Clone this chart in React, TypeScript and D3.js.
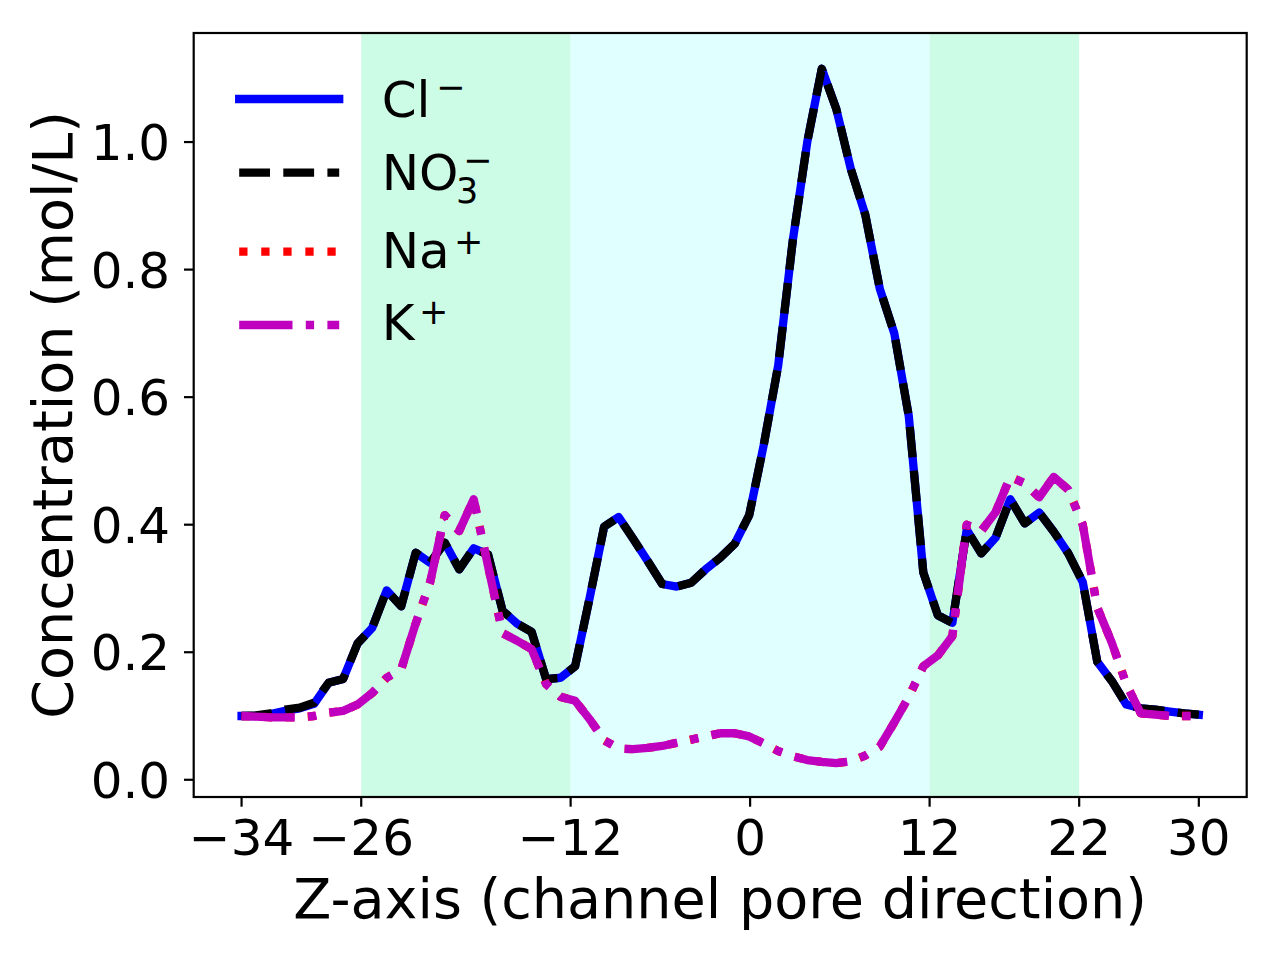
import * as d3 from "d3";

// z positions of the profile samples (channel pore axis)
const zPos = [
  -34, -33.03, -32.06, -31.09, -30.12, -29.15, -28.18, -27.21, -26.24, -25.27,
  -24.3, -23.33, -22.36, -21.39, -20.42, -19.45, -18.48, -17.52, -16.55, -15.58,
  -14.61, -13.64, -12.67, -11.7, -10.73, -9.76, -8.79, -7.82, -6.85, -5.88,
  -4.91, -3.94, -2.97, -2.0, -1.03, -0.06, 0.91, 1.88, 2.85, 3.82,
  4.79, 5.76, 6.73, 7.7, 8.67, 9.64, 10.61, 11.58, 12.55, 13.52,
  14.48, 15.45, 16.42, 17.39, 18.36, 19.33, 20.3, 21.27, 22.24, 23.21,
  24.18, 25.15, 26.12, 27.09, 28.06, 29.03, 30,
];

const clValues = [
  0.1, 0.1, 0.103, 0.108, 0.112, 0.119, 0.152, 0.158, 0.214, 0.238,
  0.297, 0.272, 0.356, 0.34, 0.372, 0.33, 0.363, 0.353, 0.265, 0.245,
  0.232, 0.158, 0.16, 0.178, 0.285, 0.397, 0.412, 0.378, 0.343, 0.307,
  0.303, 0.309, 0.33, 0.348, 0.37, 0.415, 0.525, 0.65, 0.845, 1.0,
  1.115, 1.052, 0.958, 0.886, 0.77, 0.7, 0.57, 0.325, 0.258, 0.246,
  0.392, 0.355, 0.38, 0.44, 0.402, 0.419, 0.389, 0.355, 0.31, 0.185,
  0.155, 0.118, 0.112, 0.11, 0.107, 0.104, 0.102,
];

const no3Values = [
  0.1, 0.101, 0.104, 0.11, 0.113, 0.121, 0.152, 0.158, 0.214, 0.238,
  0.297, 0.272, 0.356, 0.34, 0.372, 0.33, 0.363, 0.353, 0.265, 0.245,
  0.232, 0.158, 0.16, 0.178, 0.285, 0.397, 0.412, 0.378, 0.343, 0.307,
  0.303, 0.309, 0.33, 0.348, 0.37, 0.415, 0.525, 0.65, 0.845, 1.0,
  1.115, 1.052, 0.958, 0.886, 0.77, 0.7, 0.57, 0.325, 0.258, 0.246,
  0.392, 0.355, 0.38, 0.44, 0.402, 0.419, 0.389, 0.355, 0.31, 0.185,
  0.155, 0.118, 0.112, 0.11, 0.107, 0.104, 0.102,
];

const naValues = [
  0.1, 0.099, 0.098, 0.098, 0.098, 0.1, 0.105, 0.108, 0.118, 0.136,
  0.16, 0.173, 0.245, 0.31, 0.415, 0.39, 0.44, 0.335, 0.23, 0.218,
  0.205, 0.15, 0.13, 0.124, 0.095, 0.062, 0.049, 0.048, 0.05, 0.053,
  0.058, 0.063, 0.068, 0.073, 0.073, 0.068, 0.057, 0.045, 0.037, 0.031,
  0.028, 0.026, 0.029, 0.038, 0.052, 0.09, 0.13, 0.178, 0.195, 0.225,
  0.4, 0.39, 0.42, 0.475, 0.465, 0.443, 0.475, 0.455, 0.4, 0.27,
  0.215, 0.15, 0.104, 0.102, 0.1, 0.1, 0.1,
];

const kValues = [
  0.1, 0.099, 0.098, 0.098, 0.098, 0.1, 0.105, 0.108, 0.118, 0.136,
  0.16, 0.173, 0.245, 0.31, 0.415, 0.39, 0.44, 0.335, 0.23, 0.218,
  0.205, 0.15, 0.13, 0.124, 0.095, 0.062, 0.049, 0.048, 0.05, 0.053,
  0.058, 0.063, 0.068, 0.073, 0.073, 0.068, 0.057, 0.045, 0.037, 0.031,
  0.028, 0.026, 0.029, 0.038, 0.052, 0.09, 0.13, 0.178, 0.195, 0.225,
  0.4, 0.39, 0.42, 0.475, 0.465, 0.443, 0.475, 0.455, 0.4, 0.27,
  0.215, 0.15, 0.104, 0.102, 0.1, 0.1, 0.1,
];

const xTicks = [-34, -26, -12, 0, 12, 22, 30];
const yTicks = [0, 0.2, 0.4, 0.6, 0.8, 1.0];

// shaded regions along the pore
const regionStarts = [-26, -12, 12];
const regionEnds = [-12, 12, 22];
const regionColors = ["#ccfce6", "#e0ffff", "#ccfce6"];

const FONT = "DejaVu Sans";
const LW = 8.3;

const series = [
  { name: "cl", values: clValues, color: "#0000ff", dash: null, cap: "square" },
  { name: "no3", values: no3Values, color: "#000000", dash: "30.8 13.3", cap: "butt" },
  { name: "na", values: naValues, color: "#ff0000", dash: "8.3 13.75", cap: "butt" },
  { name: "k", values: kValues, color: "#bf00bf", dash: "53.3 13.3 8.3 13.3", cap: "butt" },
];

const W = 1280;
const H = 960;
const plot = { left: 193.7, right: 1246.7, top: 33, bottom: 797 };

export default function App() {
  const x = d3.scaleLinear().domain([-37.2, 33.2]).range([plot.left, plot.right]);
  const y = d3.scaleLinear().domain([-0.027, 1.171]).range([plot.bottom, plot.top]);

  const line = d3
    .line<number>()
    .x((_, i) => x(zPos[i]))
    .y((d) => y(d));

  const fmtX = (v: number) => (v < 0 ? `\u2212${Math.abs(v)}` : `${v}`);

  // legend rows: handle center y
  const legendRows = [
    { s: series[0], cy: 99 },
    { s: series[1], cy: 172.7 },
    { s: series[2], cy: 251.7 },
    { s: series[3], cy: 325 },
  ];

  return (
    <svg
      width={W}
      height={H}
      style={{ position: "absolute", left: 0, top: 0, background: "#fff" }}
      fontFamily={FONT}
    >
      <defs>
        <clipPath id="plot-clip">
          <rect x={plot.left} y={plot.top} width={plot.right - plot.left} height={plot.bottom - plot.top} />
        </clipPath>
      </defs>

      {/* shaded regions */}
      {regionStarts.map((s, i) => (
        <rect
          key={i}
          x={x(s)}
          y={plot.top}
          width={x(regionEnds[i]) - x(s)}
          height={plot.bottom - plot.top}
          fill={regionColors[i]}
        />
      ))}

      {/* lines */}
      <g clipPath="url(#plot-clip)">
        {series.map((s) => (
          <path
            key={s.name}
            d={line(s.values) || ""}
            fill="none"
            stroke={s.color}
            strokeWidth={LW}
            strokeLinejoin="round"
            strokeLinecap={s.cap as any}
            strokeDasharray={s.dash || undefined}
          />
        ))}
      </g>

      {/* legend */}
      {legendRows.map((r) => (
        <line
          key={r.s.name}
          x1={239.2}
          x2={339.2}
          y1={r.cy}
          y2={r.cy}
          stroke={r.s.color}
          strokeWidth={LW}
          strokeLinecap={r.s.cap as any}
          strokeDasharray={r.s.dash || undefined}
        />
      ))}
      <g fontSize={50} fill="#000">
        <text x={381.7} y={116.7}>Cl</text>
        <text x={436} y={99} fontSize={35}>{"\u2212"}</text>
        <text x={381.7} y={190}>NO</text>
        <text x={456} y={202.7} fontSize={35}>3</text>
        <text x={463} y={172} fontSize={35}>{"\u2212"}</text>
        <text x={381.7} y={268.3}>Na</text>
        <text x={454} y={253.5} fontSize={35}>+</text>
        <text x={381.7} y={340}>K</text>
        <text x={419} y={323.5} fontSize={35}>+</text>
      </g>

      {/* frame */}
      <rect
        x={plot.left}
        y={plot.top}
        width={plot.right - plot.left}
        height={plot.bottom - plot.top}
        fill="none"
        stroke="#000"
        strokeWidth={2.2}
      />

      {/* x axis */}
      {xTicks.map((t) => (
        <g key={t} transform={`translate(${x(t)},${plot.bottom})`}>
          <line y1={0} y2={9.7} stroke="#000" strokeWidth={2.2} />
          <text y={58} textAnchor="middle" fontSize={50} fill="#000">
            {fmtX(t)}
          </text>
        </g>
      ))}

      {/* y axis */}
      {yTicks.map((t) => (
        <g key={t} transform={`translate(${plot.left},${y(t)})`}>
          <line x1={-9.7} x2={0} stroke="#000" strokeWidth={2.2} />
          <text x={-23.5} dy="0.365em" textAnchor="end" fontSize={50} fill="#000">
            {t.toFixed(1)}
          </text>
        </g>
      ))}

      <text
        x={(plot.left + plot.right) / 2}
        y={918}
        textAnchor="middle"
        fontSize={55.6}
        fill="#000"
      >
        Z-axis (channel pore direction)
      </text>
      <text
        transform={`translate(72,${(plot.top + plot.bottom) / 2}) rotate(-90)`}
        textAnchor="middle"
        fontSize={55.6}
        fill="#000"
      >
        Concentration (mol/L)
      </text>
    </svg>
  );
}
